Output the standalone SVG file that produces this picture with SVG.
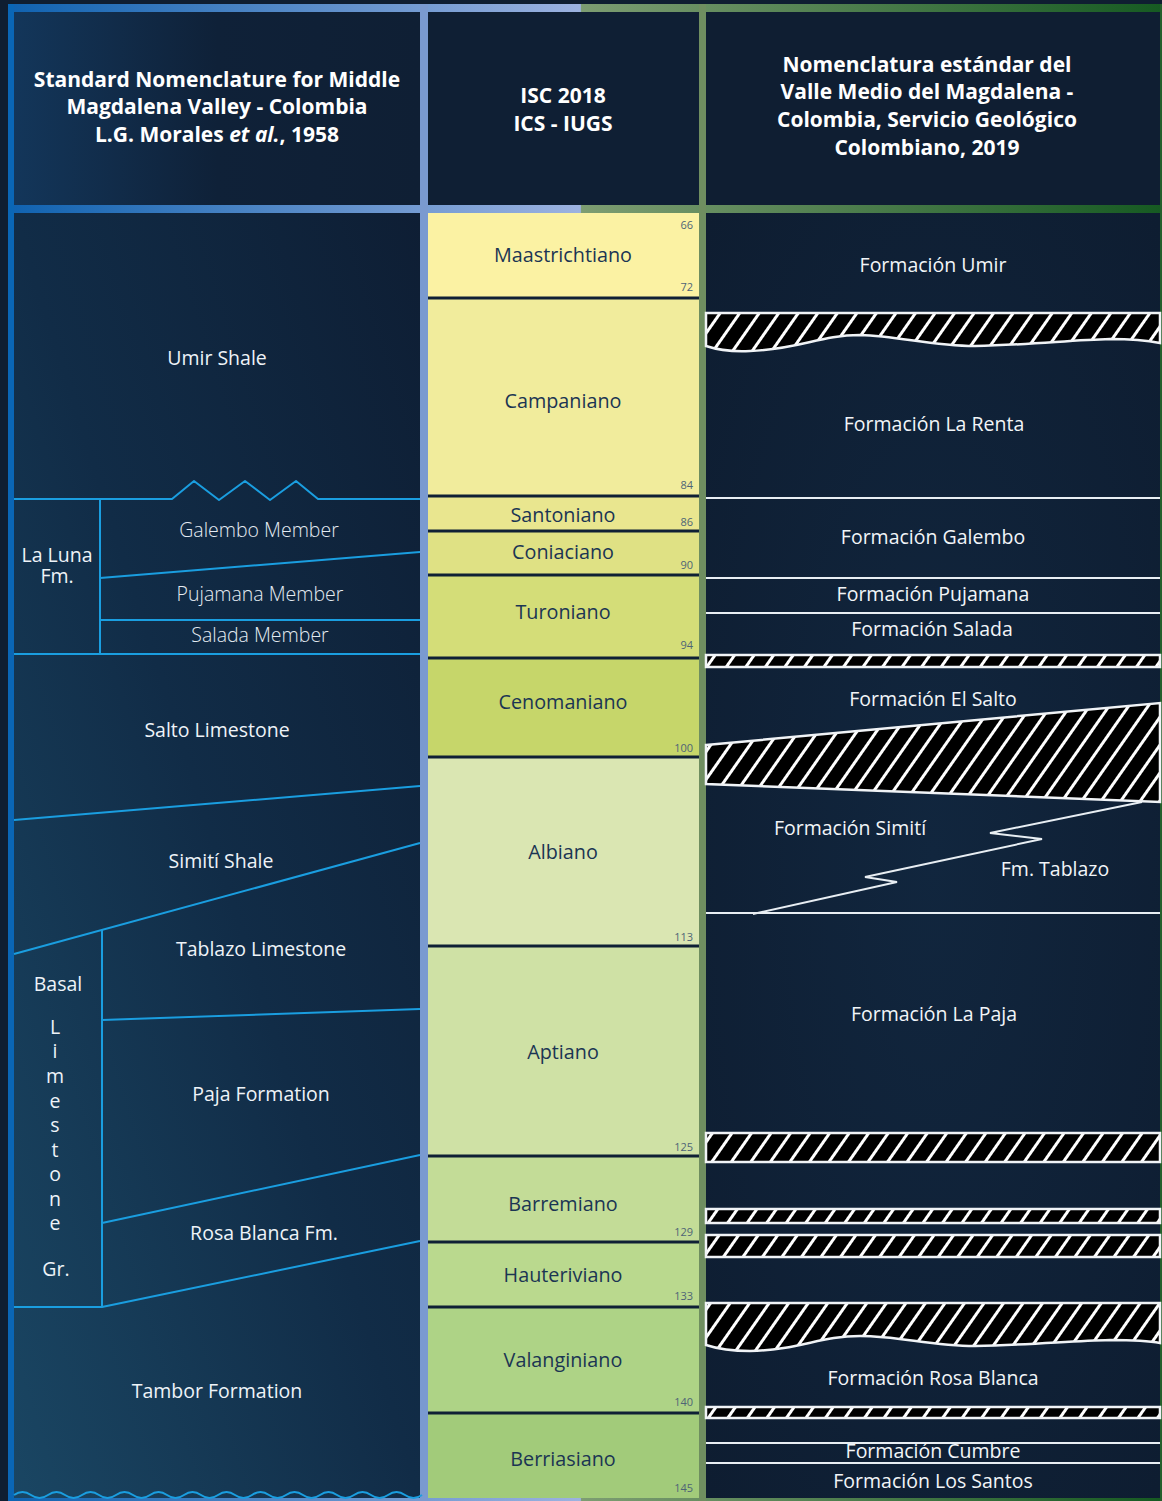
<svg xmlns="http://www.w3.org/2000/svg" width="1162" height="1501" viewBox="0 0 1162 1501">
<defs>
<linearGradient id="band" x1="8" y1="0" x2="1162" y2="0" gradientUnits="userSpaceOnUse">
<stop offset="0" stop-color="#0f62b0"/>
<stop offset="0.496" stop-color="#9cb2e0"/>
<stop offset="0.497" stop-color="#7d9d72"/>
<stop offset="1" stop-color="#165a22"/>
</linearGradient>
<linearGradient id="leftBg" x1="1" y1="0" x2="0" y2="1">
<stop offset="0" stop-color="#0e1e34"/>
<stop offset="0.5" stop-color="#112c47"/>
<stop offset="1" stop-color="#1a4663"/>
</linearGradient>
<linearGradient id="leftHead" x1="0" y1="0" x2="1" y2="0">
<stop offset="0" stop-color="#13365a"/>
<stop offset="0.5" stop-color="#0f2138"/>
<stop offset="1" stop-color="#0f1f34"/>
</linearGradient>
<radialGradient id="rightBg" cx="0.5" cy="0.5" r="0.7">
<stop offset="0" stop-color="#11263e"/>
<stop offset="1" stop-color="#0e1d31"/>
</radialGradient>
<pattern id="hatch" patternUnits="userSpaceOnUse" width="16" height="16" patternTransform="rotate(35)">
<rect width="16" height="16" fill="#000"/>
<rect x="0" y="0" width="3" height="16" fill="#fff"/>
</pattern>
<style>
.hd{font-family:"Open Sans","Noto Sans",sans-serif;font-weight:bold;font-size:21px;fill:#ffffff;text-anchor:middle}
.lt{font-family:"Open Sans","Noto Sans",sans-serif;font-size:19.5px;fill:#eef3f8;text-anchor:middle}
.lm{font-family:"Open Sans","Noto Sans",sans-serif;font-size:19.5px;font-weight:300;fill:#e4ebf2;text-anchor:middle}
.rt{font-family:"Open Sans","Noto Sans",sans-serif;font-size:19.5px;fill:#f2f5f8;text-anchor:middle}
.st{font-family:"Open Sans","Noto Sans",sans-serif;font-size:19.8px;fill:#1b3553;text-anchor:middle}
.nm{font-family:"Open Sans","Noto Sans",sans-serif;font-size:11px;fill:#4e6476;text-anchor:end}
.bl{fill:none;stroke:#1a9ee0;stroke-width:2;stroke-linejoin:round}
.wl{fill:none;stroke:#e8eef3;stroke-width:2}
.hb{fill:url(#hatch);stroke:#f0f3f6;stroke-width:2.5}
.sep{fill:#0f2035}
</style>
</defs>

<!-- background and frame -->
<rect width="1162" height="1501" fill="#0f1e31"/>
<rect x="14" y="12" width="406" height="193" fill="url(#leftHead)"/>
<rect x="428" y="12" width="271" height="193" fill="#0f1f34"/>
<rect x="706" y="12" width="454" height="193" fill="#0f1e32"/>
<rect x="14" y="213" width="406" height="1285" fill="url(#leftBg)"/>
<rect x="706" y="213" width="454" height="1285" fill="url(#rightBg)"/>
<rect x="8" y="4" width="1154" height="8" fill="url(#band)"/>
<rect x="8" y="205" width="1154" height="8" fill="url(#band)"/>
<rect x="8" y="1498" width="1154" height="3" fill="url(#band)"/>
<rect x="8" y="4" width="6" height="1497" fill="#0a66b5"/>
<rect x="420" y="4" width="8" height="1497" fill="#7a9ad0"/>
<rect x="699" y="4" width="7" height="1497" fill="#6f8e60"/>
<rect x="1160" y="4" width="2" height="1497" fill="#245f2c"/>

<!-- headers -->
<g id="header-left">
<text class="hd" x="217" y="87">Standard Nomenclature for Middle</text>
<text class="hd" x="217" y="114">Magdalena Valley - Colombia</text>
<text class="hd" x="217" y="142">L.G. Morales <tspan font-style="italic">et al.</tspan>, 1958</text>
</g>
<g id="header-middle">
<text class="hd" x="563" y="103">ISC 2018</text>
<text class="hd" x="563" y="131">ICS - IUGS</text>
</g>
<g id="header-right">
<text class="hd" x="927" y="72">Nomenclatura estándar del</text>
<text class="hd" x="927" y="99">Valle Medio del Magdalena -</text>
<text class="hd" x="927" y="127">Colombia, Servicio Geológico</text>
<text class="hd" x="927" y="155">Colombiano, 2019</text>
</g>

<!-- middle column: stages -->
<g id="stage-maastrichtiano"><rect x="428" y="213" width="271" height="85" fill="#fbf2a3"/><text class="st" x="563" y="262">Maastrichtiano</text><text class="nm" x="693" y="229">66</text><text class="nm" x="693" y="291">72</text></g>
<g id="stage-campaniano"><rect x="428" y="298" width="271" height="198" fill="#f1ec9c"/><text class="st" x="563" y="408">Campaniano</text><text class="nm" x="693" y="489">84</text></g>
<g id="stage-santoniano"><rect x="428" y="496" width="271" height="35" fill="#e9e68f"/><text class="st" x="563" y="522">Santoniano</text><text class="nm" x="693" y="526">86</text></g>
<g id="stage-coniaciano"><rect x="428" y="531" width="271" height="44" fill="#dfe184"/><text class="st" x="563" y="559">Coniaciano</text><text class="nm" x="693" y="569">90</text></g>
<g id="stage-turoniano"><rect x="428" y="575" width="271" height="83" fill="#d4dd78"/><text class="st" x="563" y="619">Turoniano</text><text class="nm" x="693" y="649">94</text></g>
<g id="stage-cenomaniano"><rect x="428" y="658" width="271" height="99" fill="#c6d66a"/><text class="st" x="563" y="709">Cenomaniano</text><text class="nm" x="693" y="752">100</text></g>
<g id="stage-albiano"><rect x="428" y="757" width="271" height="189" fill="#dae6b2"/><text class="st" x="563" y="859">Albiano</text><text class="nm" x="693" y="941">113</text></g>
<g id="stage-aptiano"><rect x="428" y="946" width="271" height="210" fill="#cfe1a5"/><text class="st" x="563" y="1059">Aptiano</text><text class="nm" x="693" y="1151">125</text></g>
<g id="stage-barremiano"><rect x="428" y="1156" width="271" height="86" fill="#c3dc97"/><text class="st" x="563" y="1211">Barremiano</text><text class="nm" x="693" y="1236">129</text></g>
<g id="stage-hauteriviano"><rect x="428" y="1242" width="271" height="65" fill="#bad98e"/><text class="st" x="563" y="1282">Hauteriviano</text><text class="nm" x="693" y="1300">133</text></g>
<g id="stage-valanginiano"><rect x="428" y="1307" width="271" height="106" fill="#aed386"/><text class="st" x="563" y="1367">Valanginiano</text><text class="nm" x="693" y="1406">140</text></g>
<g id="stage-berriasiano"><rect x="428" y="1413" width="271" height="85" fill="#a2cb7a"/><text class="st" x="563" y="1466">Berriasiano</text><text class="nm" x="693" y="1492">145</text></g>
<g id="stage-dividers">
<rect class="sep" x="428" y="296.5" width="271" height="3"/>
<rect class="sep" x="428" y="494.5" width="271" height="3"/>
<rect class="sep" x="428" y="529.5" width="271" height="3"/>
<rect class="sep" x="428" y="573.5" width="271" height="3"/>
<rect class="sep" x="428" y="656.5" width="271" height="3"/>
<rect class="sep" x="428" y="755.5" width="271" height="3"/>
<rect class="sep" x="428" y="944.5" width="271" height="3"/>
<rect class="sep" x="428" y="1154.5" width="271" height="3"/>
<rect class="sep" x="428" y="1240.5" width="271" height="3"/>
<rect class="sep" x="428" y="1305.5" width="271" height="3"/>
<rect class="sep" x="428" y="1411.5" width="271" height="3"/>
</g>

<!-- left column boundaries -->
<g id="connectors">
<path class="bl" d="M14,499 H172 L194,481 L219,500 L245,481 L270,500 L296,481 L318,499 H420"/>
<path class="bl" d="M100,499 V654"/>
<path class="bl" d="M100,578 L420,552"/>
<path class="bl" d="M100,620 H420"/>
<path class="bl" d="M14,654 H420"/>
<path class="bl" d="M14,820 L420,786"/>
<path class="bl" d="M14,954 L420,843"/>
<path class="bl" d="M102,930 V1307"/>
<path class="bl" d="M102,1020 L420,1009"/>
<path class="bl" d="M102,1223 L420,1155"/>
<path class="bl" d="M14,1307 H102 L420,1241"/>
<path class="bl" d="M14,1495 q8.5,-6 17,0 t17,0 t17,0 t17,0 t17,0 t17,0 t17,0 t17,0 t17,0 t17,0 t17,0 t17,0 t17,0 t17,0 t17,0 t17,0 t17,0 t17,0 t17,0 t17,0 t17,0 t17,0 t17,0 t17,0"/>
<!-- right column boundaries -->
<path class="wl" d="M706,498 H1160"/>
<path class="wl" d="M706,578 H1160"/>
<path class="wl" d="M706,613 H1160"/>
<path class="wl" d="M1142,802 L990,833 L1042,839 L865,877 L897,882 L753,914"/>
<path class="wl" d="M706,913 H1160"/>
<path class="wl" d="M706,1443 H1160"/>
<path class="wl" d="M706,1463 H1160"/>
</g>

<!-- hiatus / hatched bands -->
<g id="hiatus-bands">
<path class="hb" d="M706,313 H1160 V343 C1145,340 1130,339 1110,339 C1070,340 1030,345 975,346 C930,346 900,336 860,335 C820,335 800,349 750,351 C730,352 715,349 706,346 Z"/>
<rect class="hb" x="706" y="655" width="454" height="12"/>
<path class="hb" d="M706,745 L1160,703 V802 L706,784 Z"/>
<rect class="hb" x="706" y="1133" width="454" height="29"/>
<rect class="hb" x="706" y="1209" width="454" height="14"/>
<rect class="hb" x="706" y="1235" width="454" height="22"/>
<path class="hb" d="M706,1303 H1160 V1343 C1145,1340 1130,1340 1110,1340 C1070,1341 1030,1345 975,1346 C930,1346 900,1336 860,1336 C820,1336 800,1350 750,1351 C730,1351 715,1348 706,1345 Z"/>
<rect class="hb" x="706" y="1407" width="454" height="11"/>
</g>

<!-- left column units -->
<g id="umir-shale"><text class="lt" x="217" y="365">Umir Shale</text></g>
<g id="la-luna-fm"><text class="lt" x="57" y="562">La Luna<tspan x="57" dy="21">Fm.</tspan></text></g>
<g id="galembo-member"><text class="lm" x="259" y="537">Galembo Member</text></g>
<g id="pujamana-member"><text class="lm" x="260" y="601">Pujamana Member</text></g>
<g id="salada-member"><text class="lm" x="260" y="642">Salada Member</text></g>
<g id="salto-limestone"><text class="lt" x="217" y="737">Salto Limestone</text></g>
<g id="simiti-shale"><text class="lt" x="221" y="868">Simití Shale</text></g>
<g id="tablazo-limestone"><text class="lt" x="261" y="956">Tablazo Limestone</text></g>
<g id="basal-limestone-gr">
<text class="lt" x="58" y="991">Basal</text>
<text class="lt" x="55" y="1034">L</text>
<text class="lt" x="55" y="1058">i</text>
<text class="lt" x="55" y="1083">m</text>
<text class="lt" x="55" y="1108">e</text>
<text class="lt" x="55" y="1132">s</text>
<text class="lt" x="55" y="1157">t</text>
<text class="lt" x="55" y="1181">o</text>
<text class="lt" x="55" y="1206">n</text>
<text class="lt" x="55" y="1230">e</text>
<text class="lt" x="56" y="1276">Gr.</text>
</g>
<g id="paja-formation"><text class="lt" x="261" y="1101">Paja Formation</text></g>
<g id="rosa-blanca-fm"><text class="lt" x="264" y="1240">Rosa Blanca Fm.</text></g>
<g id="tambor-formation"><text class="lt" x="217" y="1398">Tambor Formation</text></g>

<!-- right column units -->
<g id="formacion-umir"><text class="rt" x="933" y="272">Formación Umir</text></g>
<g id="formacion-la-renta"><text class="rt" x="934" y="431">Formación La Renta</text></g>
<g id="formacion-galembo"><text class="rt" x="933" y="544">Formación Galembo</text></g>
<g id="formacion-pujamana"><text class="rt" x="933" y="601">Formación Pujamana</text></g>
<g id="formacion-salada"><text class="rt" x="932" y="636">Formación Salada</text></g>
<g id="formacion-el-salto"><text class="rt" x="933" y="706">Formación El Salto</text></g>
<g id="formacion-simiti"><text class="rt" x="850" y="835">Formación Simití</text></g>
<g id="fm-tablazo"><text class="rt" x="1055" y="876">Fm. Tablazo</text></g>
<g id="formacion-la-paja"><text class="rt" x="934" y="1021">Formación La Paja</text></g>
<g id="formacion-rosa-blanca"><text class="rt" x="933" y="1385">Formación Rosa Blanca</text></g>
<g id="formacion-cumbre"><text class="rt" x="933" y="1458">Formación Cumbre</text></g>
<g id="formacion-los-santos"><text class="rt" x="933" y="1488">Formación Los Santos</text></g>
</svg>
